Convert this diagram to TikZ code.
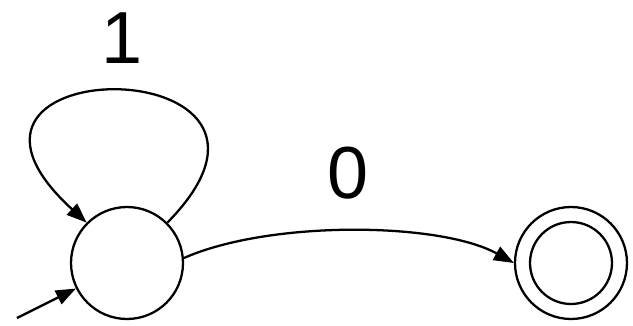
\documentclass[tikz,border=0pt]{standalone}
\usepackage{fontspec}
\setmainfont{Liberation Sans}
\usetikzlibrary{arrows.meta}
\begin{document}
\begin{tikzpicture}[x=0.02cm,y=-0.02cm,
  every path/.style={line width=1.3pt},
  state/.style={circle,draw,line width=1.3pt,minimum size=2.24cm,inner sep=0pt},
  innerstate/.style={circle,draw,line width=1.3pt,minimum size=1.64cm,inner sep=0pt},
  edge/.style={draw,-{Triangle[length=0.4cm,width=0.3cm]}},
  lbl/.style={font=\fontsize{42}{50}\selectfont,inner sep=0pt}]
\useasboundingbox (0,0) rectangle (633,325);
\node[state] (s1) at (127,263) {};
\node[state] (q1) at (571,263) {};
\node[innerstate] (q1in) at (571,263) {};
\coordinate (init) at (17,318);
\draw[edge] (init) -- (s1);
\draw[edge] (s1.45) .. controls (340,47) and (-105,47) .. (s1.135);
\draw[edge] (s1.5) .. controls (270,220) and (440,222) .. (q1.180);
\node[lbl] (l1) at (122,38) {1};
\node[lbl] (l0) at (348,173) {0};
\end{tikzpicture}
\end{document}
